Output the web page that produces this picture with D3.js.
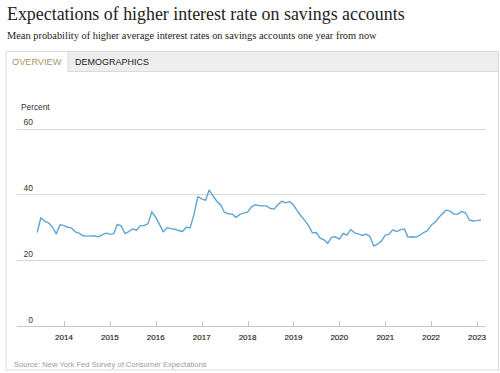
<!DOCTYPE html>
<html>
<head>
<meta charset="utf-8">
<script src="https://cdn.jsdelivr.net/npm/d3@7"></script>
<style>
  html, body { margin: 0; padding: 0; background: #fff; }
  svg { display: block; }
</style>
</head>
<body>
<svg id="chart" width="500" height="373"></svg>
<script>
// ---- Data (monthly mean probability, %), June 2013 – Feb 2023 ----
const startMonth = "2013-06";
const v2013 = [28.4, 32.9, 31.8, 31.3, 30.0, 28.0, 30.8];
const v2014 = [30.5, 30.0, 29.8, 28.6, 28.2, 27.4, 27.3, 27.3, 27.4, 27.1, 27.7, 28.2];
const v2015 = [27.9, 28.0, 30.9, 30.4, 28.1, 28.7, 29.5, 29.1, 30.5, 30.5, 31.1, 34.7];
const v2016 = [33.0, 30.8, 28.6, 29.9, 29.6, 29.4, 29.0, 28.7, 30.0, 29.8, 34.0, 39.3];
const v2017 = [38.6, 38.2, 41.3, 39.5, 37.9, 36.8, 34.5, 34.1, 34.0, 33.0, 33.9, 34.3];
const v2018 = [34.6, 36.2, 36.8, 36.6, 36.5, 36.5, 35.7, 35.5, 36.9, 37.9, 37.4, 37.8];
const v2019 = [36.8, 35.0, 33.5, 32.1, 30.5, 28.3, 28.4, 26.7, 26.2, 25.1, 27.0, 27.1];
const v2020 = [26.4, 28.1, 27.6, 29.3, 28.3, 28.0, 27.5, 27.9, 27.2, 24.3, 24.9, 25.8];
const v2021 = [27.6, 27.9, 29.2, 28.7, 29.2, 29.5, 27.0, 27.1, 27.0, 27.5, 28.4, 28.9];
const v2022 = [30.6, 31.5, 32.9, 34.1, 35.2, 34.9, 34.0, 34.0, 34.8, 34.4, 32.2, 31.9];
const v2023 = [32.0, 32.2];

const yTicks = [0, 20, 40, 60];
const xTickYears = [2014, 2015, 2016, 2017, 2018, 2019, 2020, 2021, 2022, 2023];

const titleText = "Expectations of higher interest rate on savings accounts";
const subtitleText = "Mean probability of higher average interest rates on savings accounts one year from now";
const tabLabels = ["OVERVIEW", "DEMOGRAPHICS"];
const yAxisTitle = "Percent";
const sourceText = "Source: New York Fed Survey of Consumer Expectations";

// ---- Build series ----
const values = [].concat(v2013, v2014, v2015, v2016, v2017, v2018, v2019, v2020, v2021, v2022, v2023);
const parse = d3.timeParse("%Y-%m");
const t0 = parse(startMonth);
const data = values.map((v, i) => ({ date: d3.timeMonth.offset(t0, i), value: v }));

const svg = d3.select("#chart");
const sans = "'Liberation Sans', Arial, sans-serif";
const serif = "'Liberation Serif', 'Times New Roman', serif";

// ---- Title & subtitle ----
function fitText(sel, target) {
  const w = sel.node().getComputedTextLength();
  const fs = parseFloat(sel.attr("font-size"));
  sel.attr("font-size", (fs * target / w).toFixed(2));
}
const title = svg.append("text").attr("x", 7).attr("y", 20)
  .attr("font-family", serif).attr("font-size", 18).attr("fill", "#222")
  .text(titleText);
fitText(title, 398);
const sub = svg.append("text").attr("x", 7).attr("y", 38.5)
  .attr("font-family", serif).attr("font-size", 10).attr("fill", "#222")
  .text(subtitleText);
fitText(sub, 370);

// ---- Panel frame & tabs ----
const frameL = 6, frameR = 498.5, frameT = 51.5, tabB = 71.5, frameB = 370;
svg.append("rect").attr("x", frameL).attr("y", frameT)
  .attr("width", frameR - frameL).attr("height", tabB - frameT)
  .attr("fill", "#eeeeee");
svg.append("rect").attr("x", frameL).attr("y", frameT)
  .attr("width", 62).attr("height", tabB - frameT + 1)
  .attr("fill", "#fff");
svg.append("path")
  .attr("d", `M${frameL},${frameB}V${frameT}H${frameR}V${frameB}H${frameL}
              M${frameL + 62},${frameT}V${tabB}H${frameR}`)
  .attr("fill", "none").attr("stroke", "#d9d9d9").attr("stroke-width", 1);
svg.append("text").attr("x", 12).attr("y", 64.5)
  .attr("font-family", sans).attr("font-size", 9.2).attr("fill", "#a8966a")
  .text(tabLabels[0]);
svg.append("text").attr("x", 75).attr("y", 64.5)
  .attr("font-family", sans).attr("font-size", 9).attr("fill", "#222")
  .text(tabLabels[1]);

// ---- Scales ----
const x = d3.scaleTime()
  .domain([new Date(2014, 0, 1), new Date(2023, 0, 1)])
  .range([64, 477]);
const y = d3.scaleLinear().domain([0, 60]).range([326, 128.5]);
const gridL = 17, gridR = 486;

// ---- Gridlines ----
const g = svg.append("g");
g.selectAll("line.grid").data(yTicks).join("line")
  .attr("x1", gridL).attr("x2", gridR)
  .attr("y1", d => Math.round(y(d)) + 0.5).attr("y2", d => Math.round(y(d)) + 0.5)
  .attr("stroke", d => d === 0 ? "#c8c8c8" : "#d6d6d6").attr("stroke-width", 1);
g.selectAll("text.ylab").data(yTicks).join("text")
  .attr("x", 33).attr("y", d => y(d) - 3.5)
  .attr("text-anchor", "end")
  .attr("font-family", sans).attr("font-size", 8.5).attr("fill", "#333")
  .text(d => d);
svg.append("text").attr("x", 21).attr("y", 110)
  .attr("font-family", sans).attr("font-size", 8.3).attr("fill", "#333")
  .text(yAxisTitle);

// ---- X axis ticks/labels ----
const xDates = xTickYears.map(yr => new Date(yr, 0, 1));
g.selectAll("line.xt").data(xDates).join("line")
  .attr("x1", d => Math.round(x(d)) + 0.5).attr("x2", d => Math.round(x(d)) + 0.5)
  .attr("y1", y(0) - 5).attr("y2", y(0))
  .attr("stroke", "#c8c8c8");
g.selectAll("text.xl").data(xDates).join("text")
  .attr("x", d => x(d)).attr("y", 339.5)
  .attr("text-anchor", "middle")
  .attr("font-family", sans).attr("font-size", 8).attr("fill", "#222")
  .attr("stroke", "#222").attr("stroke-width", 0.15)
  .text(d => d3.timeFormat("%Y")(d));

// ---- Line ----
const line = d3.line().x(d => x(d.date)).y(d => y(d.value));
svg.append("path").datum(data)
  .attr("d", line)
  .attr("fill", "none").attr("stroke", "#5ea5d3").attr("stroke-width", 1.4)
  .attr("stroke-linejoin", "round");

// ---- Source ----
svg.append("text").attr("x", 14).attr("y", 366.5)
  .attr("font-family", sans).attr("font-size", 7.6).attr("fill", "#9a9a9a")
  .text(sourceText);
</script>
</body>
</html>
